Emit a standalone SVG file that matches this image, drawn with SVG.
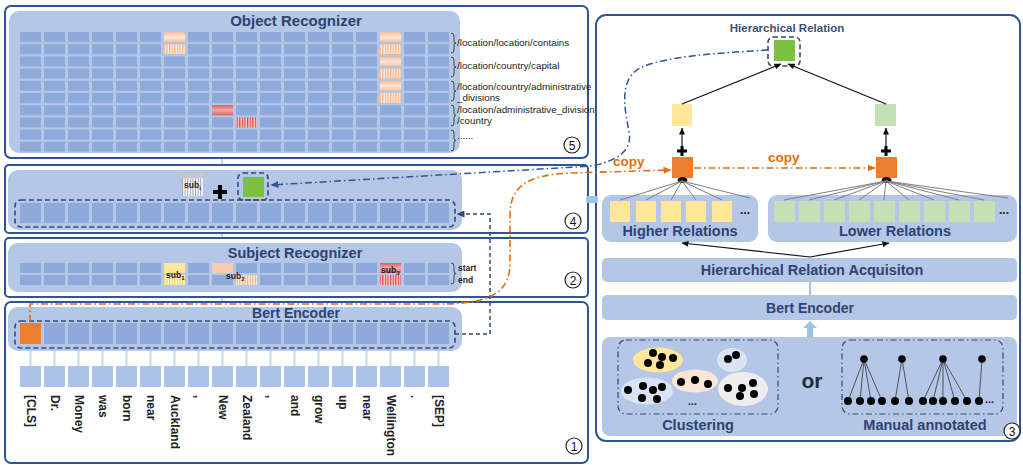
<svg xmlns="http://www.w3.org/2000/svg" width="1023" height="465" viewBox="0 0 1023 465">
<defs>
<style>
.frame{fill:#fff;stroke:#2f5597;stroke-width:2}
.panel{fill:#b4c7e7}
.title{font-family:"Liberation Sans",Arial,sans-serif;font-weight:bold;fill:#2e4372;text-anchor:middle}
.lbl{font-family:"Liberation Sans",Arial,sans-serif;font-size:9.8px;fill:#222}
.tok{font-family:"Liberation Sans",Arial,sans-serif;font-size:12px;font-weight:bold;fill:#222}
.sub{font-family:"Liberation Sans",Arial,sans-serif;font-size:8.5px;font-weight:bold;fill:#222}
.num{font-family:"Liberation Sans",Arial,sans-serif;font-size:12px;fill:#111;text-anchor:middle}
.ncirc{fill:#fff;stroke:#222;stroke-width:1.2}
.dbox{fill:none;stroke:#2f4a7a;stroke-width:1.6;stroke-dasharray:5 3}
.ddbox{fill:none;stroke:#2f4a7a;stroke-width:1.2;stroke-dasharray:6 3 1.5 3}
.brace{fill:none;stroke:#333;stroke-width:0.9}
.fan{stroke:#7f7f7f;stroke-width:1;fill:none}
.blk{stroke:#111;stroke-width:1.2;fill:none}
.dot{fill:#000}
.copy{font-family:"Liberation Sans",Arial,sans-serif;font-size:13.5px;font-weight:bold;fill:#e46c0a}
</style>
<pattern id="gObj" patternUnits="userSpaceOnUse" x="20" y="32" width="24" height="12.2"><rect width="21" height="10" fill="#8eaadb"/></pattern>
<pattern id="gF4" patternUnits="userSpaceOnUse" x="20" y="203" width="24" height="40"><rect width="21" height="20" fill="#8eaadb"/></pattern>
<pattern id="gSub" patternUnits="userSpaceOnUse" x="20" y="263" width="24" height="12"><rect width="21" height="10" fill="#8eaadb"/></pattern>
<pattern id="gBert" patternUnits="userSpaceOnUse" x="20" y="323" width="24" height="40"><rect width="21" height="21" fill="#8eaadb"/></pattern>
<pattern id="gTok" patternUnits="userSpaceOnUse" x="20" y="366" width="24" height="40"><rect width="21" height="21" fill="#adc2e8"/></pattern>
<pattern id="stOr" patternUnits="userSpaceOnUse" width="2.6" height="10"><rect width="2.6" height="10" fill="#fff3ea"/><rect width="1.3" height="10" fill="#f4b183"/></pattern>
<pattern id="stRd" patternUnits="userSpaceOnUse" width="2.6" height="10"><rect width="2.6" height="10" fill="#fbe0e0"/><rect width="1.3" height="10" fill="#d9403a"/></pattern>
<pattern id="stYe" patternUnits="userSpaceOnUse" width="2.6" height="10"><rect width="2.6" height="10" fill="#fff8dc"/><rect width="1.3" height="10" fill="#f2cf5e"/></pattern>
<pattern id="stGy" patternUnits="userSpaceOnUse" width="2.6" height="10"><rect width="2.6" height="10" fill="#ffffff"/><rect width="1.1" height="10" fill="#a6a6a6"/></pattern>
<linearGradient id="grOr" x1="0" y1="0" x2="0" y2="1"><stop offset="0" stop-color="#f6bb92"/><stop offset="0.5" stop-color="#fde8da"/><stop offset="1" stop-color="#f6c09a"/></linearGradient>
<linearGradient id="grRd" x1="0" y1="0" x2="0" y2="1"><stop offset="0" stop-color="#e05c5c"/><stop offset="0.5" stop-color="#f2aaaa"/><stop offset="1" stop-color="#e06060"/></linearGradient>
<marker id="aBlk" markerUnits="userSpaceOnUse" markerWidth="7" markerHeight="6" refX="6.5" refY="3" orient="auto"><path d="M0,0 L7,3 L0,6 z" fill="#111"/></marker>
<marker id="aBlu" markerUnits="userSpaceOnUse" markerWidth="8" markerHeight="7" refX="7.5" refY="3.5" orient="auto"><path d="M0,0 L8,3.5 L0,7 z" fill="#2f5597"/></marker>
<marker id="aOr" markerUnits="userSpaceOnUse" markerWidth="8" markerHeight="7" refX="7.5" refY="3.5" orient="auto"><path d="M0,0 L8,3.5 L0,7 z" fill="#e46c0a"/></marker>
<marker id="aDk" markerUnits="userSpaceOnUse" markerWidth="8" markerHeight="7" refX="7.5" refY="3.5" orient="auto"><path d="M0,0 L8,3.5 L0,7 z" fill="#2f4a7a"/></marker>
</defs>

<rect width="1023" height="465" fill="#fff"/>

<!-- background thin link -->
<line x1="222" y1="150" x2="222" y2="308" stroke="#8fa5c8" stroke-width="1"/>

<!-- (5) Object Recognizer -->
<g id="object-recognizer">
<rect class="frame" x="5" y="6" width="583" height="152" rx="6"/>
<rect class="panel" x="9" y="11" width="451" height="142" rx="10"/>
<text class="title" x="296" y="26" font-size="15">Object Recognizer</text>
<rect x="20" y="32" width="429" height="119.8" fill="url(#gObj)"/>
<rect x="164" y="32" width="21" height="10" fill="url(#grOr)"/>
<rect x="164" y="44.2" width="21" height="10" fill="url(#stOr)"/>
<rect x="380" y="32" width="21" height="10" fill="url(#grOr)"/>
<rect x="380" y="44.2" width="21" height="10" fill="url(#stOr)"/>
<rect x="380" y="56.4" width="21" height="10" fill="url(#grOr)"/>
<rect x="380" y="68.6" width="21" height="10" fill="url(#stOr)"/>
<rect x="380" y="80.8" width="21" height="10" fill="url(#grOr)"/>
<rect x="380" y="93" width="21" height="10" fill="url(#stOr)"/>
<rect x="212" y="105.2" width="21" height="10" fill="url(#grRd)"/>
<rect x="236" y="117.4" width="21" height="10" fill="url(#stRd)"/>
<path class="brace" d="M451,33 Q454,33 454,36 V41 Q454,43 456,43 Q454,43 454,45 V50 Q454,53 451,53"/>
<path class="brace" d="M451,57 Q454,57 454,60 V65 Q454,67 456,67 Q454,67 454,69 V74 Q454,77 451,77"/>
<path class="brace" d="M451,81 Q454,81 454,84 V89 Q454,91 456,91 Q454,91 454,93 V98 Q454,101 451,101"/>
<path class="brace" d="M451,105 Q454,105 454,108 V113 Q454,115.5 456,115.5 Q454,115.5 454,118 V123 Q454,126 451,126"/>
<path class="brace" d="M451,130 Q454,130 454,133 V138 Q454,140.5 456,140.5 Q454,140.5 454,143 V148 Q454,151 451,151"/>
<text class="lbl" x="457" y="46">/location/location/contains</text>
<text class="lbl" x="457" y="69">/location/country/capital</text>
<text class="lbl" x="457" y="90">/location/country/administrative</text>
<text class="lbl" x="457" y="101">_divisions</text>
<text class="lbl" x="457" y="113">/location/administrative_division</text>
<text class="lbl" x="457" y="124">/country</text>
<text class="lbl" x="457" y="139">......</text>
<circle class="ncirc" cx="572" cy="145" r="8"/>
<text class="num" x="572" y="149.5">5</text>
</g>

<!-- (4) fusion -->
<g id="fusion">
<rect class="frame" x="5" y="165" width="583" height="68" rx="4"/>
<rect class="panel" x="8" y="170" width="454" height="60" rx="10"/>
<rect x="20" y="203" width="429" height="20" fill="url(#gF4)"/>
<rect class="dbox" x="15" y="200" width="440" height="27" rx="6"/>
<rect x="182" y="173" width="21" height="5" fill="#c9c9c9"/>
<rect x="182" y="178" width="21" height="18" fill="url(#stGy)"/>
<text class="sub" x="184" y="188">sub<tspan font-size="6" dy="2">i</tspan></text>
<path d="M213,192 H227 M220,185 V199" stroke="#000" stroke-width="4"/>
<rect class="dbox" x="238" y="173" width="30" height="27" rx="5"/>
<rect x="243" y="177" width="21" height="20" fill="#7cc142"/>
<circle class="ncirc" cx="573" cy="221" r="8"/>
<text class="num" x="573" y="225.5">4</text>
</g>

<!-- (2) Subject Recognizer -->
<g id="subject-recognizer">
<rect class="frame" x="5" y="238" width="583" height="59" rx="4"/>
<rect class="panel" x="8" y="243" width="454" height="49" rx="10"/>
<text class="title" x="295" y="258" font-size="14.5">Subject Recognizer</text>
<rect x="20" y="263" width="429" height="22" fill="url(#gSub)"/>
<rect x="164" y="263" width="21" height="10" fill="#ffe699"/>
<rect x="164" y="275" width="21" height="10" fill="url(#stYe)"/>
<rect x="212" y="263" width="21" height="10" fill="#f8cbad"/>
<rect x="236" y="275" width="21" height="10" fill="url(#stOr)"/>
<rect x="380" y="263" width="21" height="10" fill="url(#grRd)"/>
<rect x="380" y="275" width="21" height="10" fill="url(#stRd)"/>
<text class="sub" x="166" y="278">sub<tspan font-size="6" dy="2">1</tspan></text>
<text class="sub" x="226" y="279">sub<tspan font-size="6" dy="2">2</tspan></text>
<text class="sub" x="381" y="273">sub<tspan font-size="6" dy="2">3</tspan></text>
<path class="brace" d="M451,263 Q454,263 454,266 V271 Q454,273.5 456,273.5 Q454,273.5 454,276 V281 Q454,284 451,284"/>
<text class="sub" x="458" y="271" font-size="11px">start</text>
<text class="sub" x="458" y="283" font-size="11px">end</text>
<circle class="ncirc" cx="573" cy="280" r="8"/>
<text class="num" x="573" y="284.5">2</text>
</g>

<!-- (1) Bert Encoder -->
<g id="bert-encoder-left">
<rect class="frame" x="5" y="302" width="583" height="161" rx="6"/>
<rect class="panel" x="8" y="307" width="454" height="44" rx="10"/>
<text class="title" x="296" y="318" font-size="14">Bert Encoder</text>
<rect x="20" y="323" width="429" height="21" fill="url(#gBert)"/>
<rect x="20" y="323" width="21" height="21" fill="#ed7d31"/>
<rect class="dbox" x="15" y="321" width="440" height="27" rx="6"/>
<path d="M30.5,351V366M54.5,351V366M78.5,351V366M102.5,351V366M126.5,351V366M150.5,351V366M174.5,351V366M198.5,351V366M222.5,351V366M246.5,351V366M270.5,351V366M294.5,351V366M318.5,351V366M342.5,351V366M366.5,351V366M390.5,351V366M414.5,351V366M438.5,351V366" stroke="#c9d6ee" stroke-width="2"/>
<rect x="20" y="366" width="429" height="21" fill="url(#gTok)"/>
<g class="tok">
<text transform="translate(26.5,395) rotate(90)">[CLS]</text>
<text transform="translate(50.5,395) rotate(90)">Dr.</text>
<text transform="translate(74.5,395) rotate(90)">Money</text>
<text transform="translate(98.5,395) rotate(90)">was</text>
<text transform="translate(122.5,395) rotate(90)">born</text>
<text transform="translate(146.5,395) rotate(90)">near</text>
<text transform="translate(170.5,395) rotate(90)">Auckland</text>
<text transform="translate(194.5,395) rotate(90)">,</text>
<text transform="translate(218.5,395) rotate(90)">New</text>
<text transform="translate(242.5,395) rotate(90)">Zealand</text>
<text transform="translate(266.5,395) rotate(90)">,</text>
<text transform="translate(290.5,395) rotate(90)">and</text>
<text transform="translate(314.5,395) rotate(90)">grow</text>
<text transform="translate(338.5,395) rotate(90)">up</text>
<text transform="translate(362.5,395) rotate(90)">near</text>
<text transform="translate(386.5,395) rotate(90)">Wellington</text>
<text transform="translate(410.5,395) rotate(90)">.</text>
<text transform="translate(434.5,395) rotate(90)">[SEP]</text>
</g>
<circle class="ncirc" cx="574" cy="446" r="8"/>
<text class="num" x="574" y="450.5">1</text>
</g>

<!-- (3) right panel -->
<g id="hierarchy-panel">
<rect class="frame" x="596" y="15" width="424" height="426" rx="10"/>
<rect x="586" y="196" width="12" height="7" rx="2" fill="#9dc3e6"/>
</g>

<g id="hierarchical-relation">
<text x="787" y="32" font-family="Liberation Sans, Arial, sans-serif" font-size="11.5" font-weight="bold" fill="#3e5070" text-anchor="middle">Hierarchical Relation</text>
<rect class="dbox" x="768" y="37" width="32" height="29" rx="5"/>
<rect x="774" y="40" width="21" height="21" fill="#7cc142"/>
</g>

<g id="higher-node">
<rect x="672" y="104" width="20" height="22" fill="#ffe699"/>
<path d="M677,151 H687 M682,146 V156" stroke="#000" stroke-width="3"/>
<rect x="672" y="157" width="21" height="21" fill="#ed7d31"/>
<ellipse cx="682.5" cy="180" rx="5" ry="3" fill="#111"/>
</g>

<g id="lower-node">
<rect x="875" y="104" width="21" height="22" fill="#c5e0b4"/>
<path d="M881,151 H891 M886,146 V156" stroke="#000" stroke-width="3"/>
<rect x="876" y="157" width="21" height="21" fill="#ed7d31"/>
<ellipse cx="886.5" cy="180" rx="5" ry="3" fill="#111"/>
</g>

<g id="higher-relations">
<rect class="panel" x="602" y="195" width="156" height="47" rx="9"/>
<rect x="610" y="201" width="20" height="21" fill="#ffe699"/>
<rect x="636" y="201" width="20" height="21" fill="#ffe699"/>
<rect x="661" y="201" width="20" height="21" fill="#ffe699"/>
<rect x="686" y="201" width="20" height="21" fill="#ffe699"/>
<rect x="712" y="201" width="20" height="21" fill="#ffe699"/>
<text x="740" y="214" font-family="Liberation Sans, Arial, sans-serif" font-size="12" font-weight="bold" fill="#222">...</text>
<text class="title" x="680" y="236" font-size="14.5">Higher Relations</text>
</g>

<g id="lower-relations">
<rect class="panel" x="768" y="195" width="249" height="47" rx="9"/>
<rect x="774" y="201" width="21" height="21" fill="#c5e0b4"/>
<rect x="799" y="201" width="21" height="21" fill="#c5e0b4"/>
<rect x="824" y="201" width="21" height="21" fill="#c5e0b4"/>
<rect x="849" y="201" width="21" height="21" fill="#c5e0b4"/>
<rect x="874" y="201" width="21" height="21" fill="#c5e0b4"/>
<rect x="899" y="201" width="21" height="21" fill="#c5e0b4"/>
<rect x="924" y="201" width="21" height="21" fill="#c5e0b4"/>
<rect x="949" y="201" width="21" height="21" fill="#c5e0b4"/>
<rect x="974" y="201" width="21" height="21" fill="#c5e0b4"/>
<text x="999" y="214" font-family="Liberation Sans, Arial, sans-serif" font-size="12" font-weight="bold" fill="#222">...</text>
<text class="title" x="895" y="236" font-size="14.5">Lower Relations</text>
</g>

<g id="hra">
<rect class="panel" x="602" y="258" width="415" height="24" rx="5"/>
<text class="title" x="812" y="275" font-size="14.5">Hierarchical Relation Acquisiton</text>
</g>

<g id="bert-encoder-right">
<rect class="panel" x="602" y="295" width="415" height="25" rx="5"/>
<text class="title" x="810" y="313" font-size="14">Bert Encoder</text>
</g>

<g id="sources">
<rect class="panel" x="602" y="337" width="415" height="99" rx="8"/>
<rect class="ddbox" x="618" y="340" width="160" height="74" rx="8"/>
<ellipse cx="658" cy="360" rx="25" ry="12.5" fill="#ffe699"/>
<ellipse cx="732" cy="360" rx="15" ry="12" fill="#dae3f3"/>
<ellipse cx="647" cy="391" rx="26" ry="13.5" fill="#dae3f3"/>
<ellipse cx="695" cy="381" rx="23" ry="11.5" fill="#fbe5d6"/>
<ellipse cx="743" cy="389" rx="25" ry="17" fill="#ededed"/>
<g class="dot">
<circle cx="653" cy="353" r="4"/><circle cx="662" cy="357" r="4"/><circle cx="673" cy="358" r="4"/><circle cx="648" cy="363" r="4"/><circle cx="660" cy="365" r="4"/>
<circle cx="728" cy="359" r="4"/><circle cx="736" cy="355" r="4"/>
<circle cx="628" cy="390" r="4"/><circle cx="643" cy="386" r="4"/><circle cx="653" cy="390" r="4"/><circle cx="662" cy="387" r="4"/><circle cx="642" cy="398" r="4"/><circle cx="657" cy="399" r="4"/>
<circle cx="681" cy="382" r="4"/><circle cx="695" cy="380" r="4"/><circle cx="708" cy="384" r="4"/>
<circle cx="728" cy="388" r="4"/><circle cx="742" cy="388" r="4"/><circle cx="753" cy="383" r="4"/><circle cx="740" cy="396" r="4"/><circle cx="754" cy="394" r="4"/>
</g>
<text x="688" y="405" font-family="Liberation Sans, Arial, sans-serif" font-size="11" font-weight="bold" fill="#222">...</text>
<text class="title" x="698" y="430" font-size="14.5">Clustering</text>
<text x="812" y="388" font-family="Liberation Sans, Arial, sans-serif" font-size="21" font-weight="bold" fill="#1f2d3d" text-anchor="middle">or</text>
<rect class="ddbox" x="842" y="340" width="161" height="74" rx="8"/>
<path d="M864,359 L848,401 M864,359 L860,401 M864,359 L871,401 M864,359 L882,401 M902,359 L895,401 M902,359 L909,401 M943,359 L923,401 M943,359 L933,401 M943,359 L943,401 M943,359 L955,401 M943,359 L967,401 M982,359 L979,401" stroke="#333" stroke-width="0.8"/>
<g class="dot">
<circle cx="864" cy="359" r="3.8"/><circle cx="902" cy="359" r="3.8"/><circle cx="943" cy="359" r="3.8"/><circle cx="982" cy="359" r="3.8"/>
<circle cx="848" cy="401" r="4"/><circle cx="860" cy="401" r="4"/><circle cx="871" cy="401" r="4"/><circle cx="882" cy="401" r="4"/><circle cx="895" cy="401" r="4"/><circle cx="909" cy="401" r="4"/><circle cx="923" cy="401" r="4"/><circle cx="933" cy="401" r="4"/><circle cx="943" cy="401" r="4"/><circle cx="955" cy="401" r="4"/><circle cx="967" cy="401" r="4"/><circle cx="979" cy="401" r="4"/>
</g>
<text x="985" y="403" font-family="Liberation Sans, Arial, sans-serif" font-size="11" font-weight="bold" fill="#222">...</text>
<text class="title" x="925" y="430" font-size="14.5">Manual annotated</text>
<circle class="ncirc" cx="1012" cy="431" r="8"/>
<text class="num" x="1012" y="435.5">3</text>
</g>

<!-- connectors -->
<g id="connectors">
<path class="fan" d="M682,181 L620,200 M682,181 L646,200 M682,181 L671,200 M682,181 L696,200 M682,181 L722,200 M682,181 L750,198"/>
<path class="fan" d="M886,181 L784,200 M886,181 L809,200 M886,181 L834,200 M886,181 L859,200 M886,181 L884,200 M886,181 L909,200 M886,181 L934,200 M886,181 L959,200 M886,181 L984,200 M886,181 L1008,198"/>
<line class="blk" x1="682" y1="146" x2="682" y2="128" marker-end="url(#aBlk)"/>
<line class="blk" x1="886" y1="146" x2="886" y2="128" marker-end="url(#aBlk)"/>
<line class="blk" x1="682" y1="104" x2="781" y2="64" marker-end="url(#aBlk)"/>
<line class="blk" x1="886" y1="104" x2="788" y2="64" marker-end="url(#aBlk)"/>
<line class="blk" x1="810" y1="257" x2="682" y2="243" marker-end="url(#aBlk)"/>
<line class="blk" x1="810" y1="257" x2="889" y2="243" marker-end="url(#aBlk)"/>
<line x1="810" y1="282" x2="810" y2="295" stroke="#9dc3e6" stroke-width="2"/>
<path d="M807,337 V328 H803 L810,321 L817,328 H813 V337 z" fill="#9dc3e6"/>
<path d="M455,334 H490 V214 H457" fill="none" stroke="#2f4a7a" stroke-width="1.5" stroke-dasharray="4 3" marker-end="url(#aDk)"/>
<path d="M768,50 C720,53 665,56 640,68 C618,80 625,110 629,132 C633,152 615,161 592,166 L271,185" fill="none" stroke="#2f5597" stroke-width="1.5" stroke-dasharray="7 3 1.5 3" marker-end="url(#aBlu)"/>
<path d="M30,322 V304 H440 C495,304 510,290 510,262 V215 C510,188 525,175 570,173 L671,170" fill="none" stroke="#e46c0a" stroke-width="1.6" stroke-dasharray="7 3 1.5 3" marker-end="url(#aOr)"/>
<path d="M694,168 H875" fill="none" stroke="#e46c0a" stroke-width="1.6" stroke-dasharray="7 3 1.5 3" marker-end="url(#aOr)"/>
<text class="copy" x="613" y="166">copy</text>
<text class="copy" x="768" y="162">copy</text>
</g>
</svg>
